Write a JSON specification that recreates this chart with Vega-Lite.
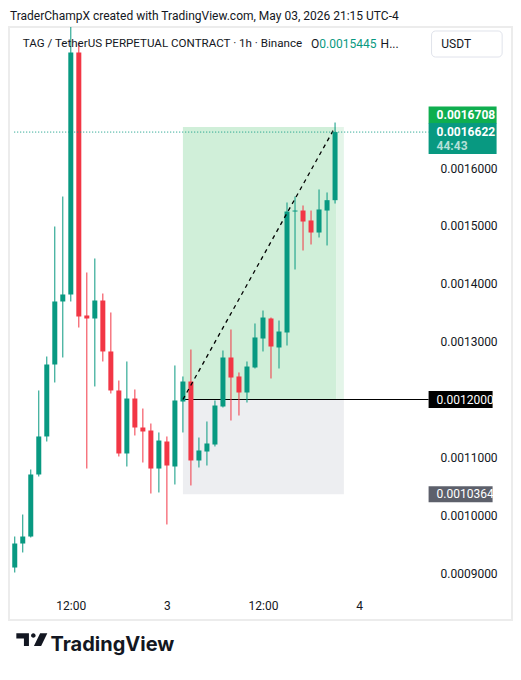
{
  "$schema": "https://vega.github.io/schema/vega-lite/v6.json",
  "width": 503,
  "height": 593,
  "autosize": "none",
  "padding": {"left": 9, "top": 27, "right": 9, "bottom": 60},
  "background": "#ffffff",
  "config": {
    "view": {"stroke": "#ececec", "strokeWidth": 2},
    "font": "Roboto",
    "axis": {"labelFont": "Roboto", "labelFontSize": 12, "labelColor": "#131722"}
  },
  "title": {
    "text": "TraderChampX created with TradingView.com, May 03, 2026 21:15 UTC-4",
    "anchor": "start",
    "frame": "group",
    "baseline": "alphabetic",
    "offset": 8,
    "dx": 1,
    "dy": 13,
    "font": "Roboto",
    "fontSize": 12,
    "fontWeight": "normal",
    "color": "#131722"
  },
  "datasets": {
    "candles": [
      {"t": "2026-05-02T05:00:00Z", "o": 0.0009096, "h": 0.0009632, "l": 0.0009010, "c": 0.0009511},
      {"t": "2026-05-02T06:00:00Z", "o": 0.0009511, "h": 0.0010012, "l": 0.0009356, "c": 0.0009632},
      {"t": "2026-05-02T07:00:00Z", "o": 0.0009632, "h": 0.0010790, "l": 0.0009615, "c": 0.0010704},
      {"t": "2026-05-02T08:00:00Z", "o": 0.0010704, "h": 0.0012156, "l": 0.0010669, "c": 0.0011361},
      {"t": "2026-05-02T09:00:00Z", "o": 0.0011361, "h": 0.0012743, "l": 0.0011274, "c": 0.0012605},
      {"t": "2026-05-02T10:00:00Z", "o": 0.0012605, "h": 0.0014990, "l": 0.0012294, "c": 0.0013694},
      {"t": "2026-05-02T11:00:00Z", "o": 0.0013694, "h": 0.0015508, "l": 0.0012726, "c": 0.0013815},
      {"t": "2026-05-02T12:00:00Z", "o": 0.0013815, "h": 0.0018438, "l": 0.0013694, "c": 0.0017997},
      {"t": "2026-05-02T13:00:00Z", "o": 0.0017997, "h": 0.0018161, "l": 0.0013244, "c": 0.0013435},
      {"t": "2026-05-02T14:00:00Z", "o": 0.0013452, "h": 0.0014195, "l": 0.0010807, "c": 0.0013400},
      {"t": "2026-05-02T15:00:00Z", "o": 0.0013400, "h": 0.0014437, "l": 0.0012225, "c": 0.0013711},
      {"t": "2026-05-02T16:00:00Z", "o": 0.0013711, "h": 0.0013832, "l": 0.0012657, "c": 0.0012830},
      {"t": "2026-05-02T17:00:00Z", "o": 0.0012830, "h": 0.0013504, "l": 0.0012104, "c": 0.0012156},
      {"t": "2026-05-02T18:00:00Z", "o": 0.0012156, "h": 0.0012328, "l": 0.0011015, "c": 0.0011067},
      {"t": "2026-05-02T19:00:00Z", "o": 0.0011067, "h": 0.0012657, "l": 0.0010842, "c": 0.0012017},
      {"t": "2026-05-02T20:00:00Z", "o": 0.0012017, "h": 0.0012173, "l": 0.0011378, "c": 0.0011516},
      {"t": "2026-05-02T21:00:00Z", "o": 0.0011516, "h": 0.0011844, "l": 0.0010911, "c": 0.0011447},
      {"t": "2026-05-02T22:00:00Z", "o": 0.0011464, "h": 0.0011585, "l": 0.0010375, "c": 0.0010807},
      {"t": "2026-05-02T23:00:00Z", "o": 0.0010807, "h": 0.0011430, "l": 0.0010393, "c": 0.0011291},
      {"t": "2026-05-03T00:00:00Z", "o": 0.0011274, "h": 0.0011361, "l": 0.0009840, "c": 0.0010859},
      {"t": "2026-05-03T01:00:00Z", "o": 0.0010842, "h": 0.0012588, "l": 0.0010531, "c": 0.0011983},
      {"t": "2026-05-03T02:00:00Z", "o": 0.0011965, "h": 0.0012398, "l": 0.0011430, "c": 0.0012311},
      {"t": "2026-05-03T03:00:00Z", "o": 0.0012311, "h": 0.0012864, "l": 0.0010514, "c": 0.0010946},
      {"t": "2026-05-03T04:00:00Z", "o": 0.0010946, "h": 0.0011343, "l": 0.0010825, "c": 0.0011119},
      {"t": "2026-05-03T05:00:00Z", "o": 0.0011101, "h": 0.0011620, "l": 0.0010859, "c": 0.0011240},
      {"t": "2026-05-03T06:00:00Z", "o": 0.0011222, "h": 0.0011983, "l": 0.0011188, "c": 0.0011896},
      {"t": "2026-05-03T07:00:00Z", "o": 0.0011879, "h": 0.0012847, "l": 0.0011862, "c": 0.0012726},
      {"t": "2026-05-03T08:00:00Z", "o": 0.0012726, "h": 0.0013210, "l": 0.0011637, "c": 0.0012380},
      {"t": "2026-05-03T09:00:00Z", "o": 0.0012398, "h": 0.0012467, "l": 0.0011723, "c": 0.0012121},
      {"t": "2026-05-03T10:00:00Z", "o": 0.0012121, "h": 0.0012657, "l": 0.0011948, "c": 0.0012570},
      {"t": "2026-05-03T11:00:00Z", "o": 0.0012553, "h": 0.0013314, "l": 0.0012536, "c": 0.0013072},
      {"t": "2026-05-03T12:00:00Z", "o": 0.0013054, "h": 0.0013538, "l": 0.0012830, "c": 0.0013417},
      {"t": "2026-05-03T13:00:00Z", "o": 0.0013400, "h": 0.0013417, "l": 0.0012363, "c": 0.0012916},
      {"t": "2026-05-03T14:00:00Z", "o": 0.0012899, "h": 0.0013365, "l": 0.0012536, "c": 0.0013175},
      {"t": "2026-05-03T15:00:00Z", "o": 0.0013158, "h": 0.0015405, "l": 0.0012933, "c": 0.0015249},
      {"t": "2026-05-03T16:00:00Z", "o": 0.0015249, "h": 0.0015508, "l": 0.0014247, "c": 0.0015266},
      {"t": "2026-05-03T17:00:00Z", "o": 0.0015266, "h": 0.0015353, "l": 0.0014575, "c": 0.0015076},
      {"t": "2026-05-03T18:00:00Z", "o": 0.0015094, "h": 0.0015266, "l": 0.0014679, "c": 0.0014886},
      {"t": "2026-05-03T19:00:00Z", "o": 0.0014886, "h": 0.0015630, "l": 0.0014800, "c": 0.0015284},
      {"t": "2026-05-03T20:00:00Z", "o": 0.0015266, "h": 0.0015578, "l": 0.0014662, "c": 0.0015445},
      {"t": "2026-05-03T21:00:00Z", "o": 0.0015445, "h": 0.0016787, "l": 0.0015387, "c": 0.0016622}
    ],
    "zones": [
      {"zone": "target", "t0": "2026-05-03T02:00:00Z", "t1": "2026-05-03T21:11:00Z", "p0": 0.0012, "p1": 0.0016708},
      {"zone": "target_ahead", "t0": "2026-05-03T21:11:00Z", "t1": "2026-05-03T22:06:00Z", "p0": 0.0012, "p1": 0.0016708},
      {"zone": "stop", "t0": "2026-05-03T02:00:00Z", "t1": "2026-05-03T22:06:00Z", "p0": 0.0010364, "p1": 0.0012}
    ],
    "trade": [
      {"t0": "2026-05-03T02:00:00Z", "p0": 0.0012, "t1": "2026-05-03T21:00:00Z", "p1": 0.0016708}
    ],
    "one": [{}]
  },
  "layer": [
    {
      "data": {"name": "zones"},
      "mark": {"type": "rect"},
      "encoding": {
        "x": {
          "field": "t0", "type": "temporal",
          "scale": {"type": "utc", "domain": [
            {"year": 2026, "month": 5, "date": 2, "hours": 4, "minutes": 54, "seconds": 22, "utc": true},
            {"year": 2026, "month": 5, "date": 4, "hours": 18, "minutes": 28, "seconds": 19, "utc": true}
          ]},
          "axis": {
            "orient": "bottom", "offset": -30,
            "values": [
              {"year": 2026, "month": 5, "date": 2, "hours": 12, "utc": true},
              {"year": 2026, "month": 5, "date": 3, "hours": 0, "utc": true},
              {"year": 2026, "month": 5, "date": 3, "hours": 12, "utc": true},
              {"year": 2026, "month": 5, "date": 4, "hours": 0, "utc": true}
            ],
            "labelExpr": "utchours(datum.value) == 0 ? utcFormat(datum.value, '%-d') : utcFormat(datum.value, '%H:%M')",
            "domain": false, "ticks": false, "tickSize": 0, "grid": false,
            "labelBaseline": "middle", "labelPadding": 15, "labelFlush": false, "labelOverlap": false,
            "title": "TradingView", "titleX": 41, "titleY": 60, "titleAlign": "left", "titleAnchor": "start",
            "titleBaseline": "alphabetic", "titleFont": "Inter", "titleFontSize": 20, "titleFontWeight": 700, "titleColor": "#131722"
          }
        },
        "x2": {"field": "t1"},
        "y": {
          "field": "p0", "type": "quantitative",
          "scale": {"domain": [0.00081891, 0.0018438], "nice": false, "zero": false},
          "axis": {
            "orient": "right", "offset": -81,
            "values": [0.0009, 0.0010, 0.0011, 0.0013, 0.0014, 0.0015, 0.0016],
            "format": ".7f", "labelAlign": "left", "labelBaseline": "middle", "labelPadding": 9,
            "domain": false, "ticks": false, "tickSize": 0, "grid": false, "title": null, "labelFlush": false, "labelOverlap": false
          }
        },
        "y2": {"field": "p1"},
        "color": {
          "field": "zone", "type": "nominal", "legend": null,
          "scale": {"domain": ["target", "target_ahead", "stop"], "range": ["#d0efd9", "#e4f5e9", "#edeef1"]}
        }
      }
    },
    {
      "data": {"name": "trade"},
      "mark": {"type": "rule", "color": "#000000", "strokeWidth": 1},
      "encoding": {
        "x": {"field": "t0", "type": "temporal"},
        "x2": {"datum": {"year": 2026, "month": 5, "date": 4, "hours": 8, "minutes": 40, "seconds": 50, "utc": true}},
        "y": {"field": "p0", "type": "quantitative"}
      }
    },
    {
      "data": {"name": "candles"},
      "mark": {"type": "rule", "strokeWidth": 1},
      "encoding": {
        "x": {"field": "t", "type": "temporal"},
        "y": {"field": "l", "type": "quantitative"},
        "y2": {"field": "h"},
        "color": {"condition": {"test": "datum.c >= datum.o", "value": "#089981"}, "value": "#f23645"}
      }
    },
    {
      "data": {"name": "candles"},
      "mark": {"type": "bar", "size": 5},
      "encoding": {
        "x": {"field": "t", "type": "temporal"},
        "y": {"field": "o", "type": "quantitative"},
        "y2": {"field": "c"},
        "color": {"condition": {"test": "datum.c >= datum.o", "value": "#089981"}, "value": "#f23645"}
      }
    },
    {
      "data": {"name": "trade"},
      "mark": {"type": "rule", "color": "#000000", "strokeWidth": 1.3, "strokeDash": [4, 4]},
      "encoding": {
        "x": {"field": "t0", "type": "temporal"},
        "x2": {"field": "t1"},
        "y": {"field": "p0", "type": "quantitative"},
        "y2": {"field": "p1"}
      }
    },
    {
      "data": {"name": "one"},
      "mark": {"type": "rule", "color": "#089981", "strokeWidth": 1, "strokeDash": [1, 2]},
      "encoding": {
        "x": {"datum": {"year": 2026, "month": 5, "date": 2, "hours": 4, "minutes": 56, "utc": true}, "type": "temporal"},
        "x2": {"datum": {"year": 2026, "month": 5, "date": 4, "hours": 8, "minutes": 40, "seconds": 50, "utc": true}},
        "y": {"datum": 0.0016622, "type": "quantitative"}
      }
    },
    {
      "data": {"name": "one"},
      "mark": {"type": "point", "shape": "M-1,-0.25H1V0.25H-1Z", "size": 4624, "filled": true, "opacity": 1, "color": "#0fae4f", "xOffset": 34, "yOffset": -12},
      "encoding": {
        "x": {"datum": {"year": 2026, "month": 5, "date": 4, "hours": 8, "minutes": 40, "seconds": 50, "utc": true}, "type": "temporal"},
        "y": {"datum": 0.0016708, "type": "quantitative"}
      }
    },
    {
      "data": {"name": "one"},
      "mark": {"type": "point", "shape": "M-1,-0.456H1V0.456H-1Z", "size": 4624, "filled": true, "opacity": 1, "color": "#089981", "xOffset": 34, "yOffset": 6.5},
      "encoding": {
        "x": {"datum": {"year": 2026, "month": 5, "date": 4, "hours": 8, "minutes": 40, "seconds": 50, "utc": true}, "type": "temporal"},
        "y": {"datum": 0.0016622, "type": "quantitative"}
      }
    },
    {
      "data": {"name": "one"},
      "mark": {"type": "point", "shape": "M-1,-0.2656H1V0.2656H-1Z", "size": 4096, "filled": true, "opacity": 1, "color": "#000000", "xOffset": 32},
      "encoding": {
        "x": {"datum": {"year": 2026, "month": 5, "date": 4, "hours": 8, "minutes": 40, "seconds": 50, "utc": true}, "type": "temporal"},
        "y": {"datum": 0.0012, "type": "quantitative"}
      }
    },
    {
      "data": {"name": "one"},
      "mark": {"type": "point", "shape": "M-1,-0.25H1V0.25H-1Z", "size": 4096, "filled": true, "opacity": 1, "color": "#5d606b", "xOffset": 32},
      "encoding": {
        "x": {"datum": {"year": 2026, "month": 5, "date": 4, "hours": 8, "minutes": 40, "seconds": 50, "utc": true}, "type": "temporal"},
        "y": {"datum": 0.0010364, "type": "quantitative"}
      }
    },
    {
      "data": {"name": "one"},
      "mark": {"type": "text", "align": "left", "baseline": "middle", "dx": 8, "dy": -12, "font": "Roboto", "fontSize": 12, "fontWeight": "bold", "color": "#ffffff"},
      "encoding": {
        "x": {"datum": {"year": 2026, "month": 5, "date": 4, "hours": 8, "minutes": 40, "seconds": 50, "utc": true}, "type": "temporal"},
        "y": {"datum": 0.0016708, "type": "quantitative"},
        "text": {"value": "0.0016708"}
      }
    },
    {
      "data": {"name": "one"},
      "mark": {"type": "text", "align": "left", "baseline": "middle", "dx": 8, "font": "Roboto", "fontSize": 12, "fontWeight": "bold", "color": "#ffffff"},
      "encoding": {
        "x": {"datum": {"year": 2026, "month": 5, "date": 4, "hours": 8, "minutes": 40, "seconds": 50, "utc": true}, "type": "temporal"},
        "y": {"datum": 0.0016622, "type": "quantitative"},
        "text": {"value": "0.0016622"}
      }
    },
    {
      "data": {"name": "one"},
      "mark": {"type": "text", "align": "left", "baseline": "middle", "dx": 8, "dy": 14, "font": "Roboto", "fontSize": 12, "fontWeight": "bold", "color": "#b5e0d8"},
      "encoding": {
        "x": {"datum": {"year": 2026, "month": 5, "date": 4, "hours": 8, "minutes": 40, "seconds": 50, "utc": true}, "type": "temporal"},
        "y": {"datum": 0.0016622, "type": "quantitative"},
        "text": {"value": "44:43"}
      }
    },
    {
      "data": {"name": "one"},
      "mark": {"type": "text", "align": "left", "baseline": "middle", "dx": 8, "font": "Roboto", "fontSize": 12, "color": "#ffffff"},
      "encoding": {
        "x": {"datum": {"year": 2026, "month": 5, "date": 4, "hours": 8, "minutes": 40, "seconds": 50, "utc": true}, "type": "temporal"},
        "y": {"datum": 0.0012, "type": "quantitative"},
        "text": {"value": "0.0012000"}
      }
    },
    {
      "data": {"name": "one"},
      "mark": {"type": "text", "align": "left", "baseline": "middle", "dx": 8, "font": "Roboto", "fontSize": 12, "color": "#ffffff"},
      "encoding": {
        "x": {"datum": {"year": 2026, "month": 5, "date": 4, "hours": 8, "minutes": 40, "seconds": 50, "utc": true}, "type": "temporal"},
        "y": {"datum": 0.0010364, "type": "quantitative"},
        "text": {"value": "0.0010364"}
      }
    },
    {
      "data": {"name": "one"},
      "mark": {"type": "text", "align": "left", "baseline": "middle", "font": "Roboto", "fontSize": 11.6, "color": "#131722"},
      "encoding": {
        "x": {"datum": {"year": 2026, "month": 5, "date": 2, "hours": 6, "minutes": 0, "utc": true}, "type": "temporal"},
        "y": {"datum": 0.0018144, "type": "quantitative"},
        "text": {"value": "TAG / TetherUS PERPETUAL CONTRACT · 1h · Binance"}
      }
    },
    {
      "data": {"name": "one"},
      "mark": {"type": "text", "align": "left", "baseline": "middle", "font": "Roboto", "fontSize": 12, "color": "#131722"},
      "encoding": {
        "x": {"datum": {"year": 2026, "month": 5, "date": 3, "hours": 17, "minutes": 59, "utc": true}, "type": "temporal"},
        "y": {"datum": 0.0018144, "type": "quantitative"},
        "text": {"value": "O"}
      }
    },
    {
      "data": {"name": "one"},
      "mark": {"type": "text", "align": "left", "baseline": "middle", "font": "Roboto", "fontSize": 12, "color": "#089981"},
      "encoding": {
        "x": {"datum": {"year": 2026, "month": 5, "date": 3, "hours": 19, "minutes": 2, "utc": true}, "type": "temporal"},
        "y": {"datum": 0.0018144, "type": "quantitative"},
        "text": {"value": "0.0015445"}
      }
    },
    {
      "data": {"name": "one"},
      "mark": {"type": "text", "align": "left", "baseline": "middle", "font": "Roboto", "fontSize": 12, "color": "#131722"},
      "encoding": {
        "x": {"datum": {"year": 2026, "month": 5, "date": 4, "hours": 2, "minutes": 41, "utc": true}, "type": "temporal"},
        "y": {"datum": 0.0018144, "type": "quantitative"},
        "text": {"value": "H..."}
      }
    },
    {
      "data": {"name": "one"},
      "mark": {"type": "rect", "fill": "#ffffff", "stroke": "#e0e3eb", "strokeWidth": 1, "cornerRadius": 4},
      "encoding": {
        "x": {"datum": {"year": 2026, "month": 5, "date": 4, "hours": 9, "minutes": 3, "utc": true}, "type": "temporal"},
        "x2": {"datum": {"year": 2026, "month": 5, "date": 4, "hours": 17, "minutes": 52, "utc": true}},
        "y": {"datum": 0.0018369, "type": "quantitative"},
        "y2": {"datum": 0.0017919}
      }
    },
    {
      "data": {"name": "one"},
      "mark": {"type": "text", "align": "left", "baseline": "middle", "font": "Roboto", "fontSize": 12, "color": "#131722"},
      "encoding": {
        "x": {"datum": {"year": 2026, "month": 5, "date": 4, "hours": 10, "minutes": 16, "utc": true}, "type": "temporal"},
        "y": {"datum": 0.0018144, "type": "quantitative"},
        "text": {"value": "USDT"}
      }
    },
    {
      "data": {"name": "one"},
      "mark": {"type": "point", "shape": "M-1,-0.41H-0.187V0.41H-0.51V-0.074H-1ZM-0.051,-0.268a0.148,0.148 0 1,0 0.296,0a0.148,0.148 0 1,0 -0.296,0ZM0.535,-0.41H1L0.6,0.41H0.135Z", "size": 961, "filled": true, "opacity": 1, "color": "#131722"},
      "encoding": {
        "x": {"datum": {"year": 2026, "month": 5, "date": 2, "hours": 7, "minutes": 8, "utc": true}, "type": "temporal"},
        "y": {"datum": 0.00078495, "type": "quantitative"}
      }
    }
  ]
}
